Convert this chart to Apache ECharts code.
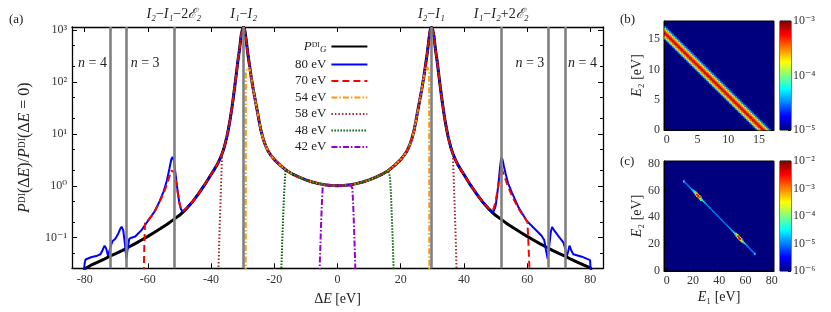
<!DOCTYPE html>
<html><head><meta charset="utf-8">
<script src="https://cdn.jsdelivr.net/npm/echarts@6/dist/echarts.min.js"></script>
<style>html,body{margin:0;padding:0;background:#fff}#c{width:831px;height:312px}</style>
</head><body><div id="c"></div>
<script>
// ---------- data ----------
const deltaETicks = [-80,-60,-40,-20,0,20,40,60,80];
const ratioTicks = [0.1,1,10,100,1000];
const ratioMinorTicks = [0.05,0.2,0.5,2,5,20,50,200,500];
const refLines = [-72,-66.7,-51.8,-29.7,29.7,51.8,66.7,72];

const pdiG = [
[-80.5,0.024],[-80,0.0262],[-78,0.0295],[-76,0.0335],[-74,0.038],[-72,0.044],[-70,0.050],[-68,0.057],[-66,0.066],[-64,0.077],[-62,0.090],[-60,0.106],[-58,0.126],[-56,0.150],[-54,0.180],[-52,0.220],[-50,0.27],[-48,0.35],[-46,0.48],[-44,0.70],[-42,1.05],[-40,1.65],[-39,2.05],[-38,2.6],[-37,3.5],[-36.5,4.2],[-36,5.1],[-35.5,6.6],[-35,8.8],[-34.5,12.5],[-34,18.5],[-33.5,29],[-33,48],[-32.5,82],[-32,145],[-31.5,260],[-31,420],[-30.5,780],[-30.1,1020],[-29.7,1150],[-29.3,980],[-28.9,650],[-28.4,360],[-27.8,200],[-27.3,125],[-26.7,75],[-26,44],[-25.3,26],[-24.8,17.5],[-24.2,11.5],[-23.5,8.0],[-23,6.5],[-22.5,5.5],[-22,4.7],[-21,3.8],[-20,3.2],[-19,2.8],[-18,2.45],[-16,1.95],[-14,1.65],[-12,1.45],[-10,1.3],[-8,1.18],[-6,1.1],[-4,1.05],[-2,1.01],[0,1.0],
[2,1.01],[4,1.05],[6,1.1],[8,1.18],[10,1.3],[12,1.45],[14,1.65],[16,1.95],[18,2.45],[19,2.8],[20,3.2],[21,3.8],[22,4.7],[22.5,5.5],[23,6.5],[23.5,8.0],[24.2,11.5],[24.8,17.5],[25.3,26],[26,44],[26.7,75],[27.3,125],[27.8,200],[28.4,360],[28.9,650],[29.3,980],[29.7,1150],[30.1,1020],[30.5,780],[31,420],[31.5,260],[32,145],[32.5,82],[33,48],[33.5,29],[34,18.5],[34.5,12.5],[35,8.8],[35.5,6.6],[36,5.1],[36.5,4.2],[37,3.5],[38,2.6],[39,2.05],[40,1.65],[42,1.05],[44,0.70],[46,0.48],[48,0.35],[50,0.27],[52,0.220],[54,0.180],[56,0.150],[58,0.126],[60,0.106],[62,0.090],[64,0.077],[66,0.066],[68,0.057],[70,0.050],[72,0.044],[74,0.038],[76,0.0335],[78,0.0295],[80,0.0262],[80.5,0.024]
];
const blue80Left = [[-80.3,0.02],[-80.0,0.032],[-79.7,0.038],[-78,0.042],[-76,0.045],[-75,0.048],[-74.3,0.058],[-73.7,0.07],[-73.2,0.062],[-72.6,0.045],[-72.2,0.043],[-71.7,0.07],[-71.2,0.085],[-70.3,0.095],[-69.5,0.115],[-68.8,0.145],[-68.3,0.163],[-67.8,0.14],[-67.3,0.08],[-66.8,0.04],[-66.4,0.06],[-65.9,0.095],[-65.2,0.1],[-64,0.105],[-62,0.14],[-60,0.21],[-58,0.31],[-56.5,0.47],[-55,0.78],[-54,1.25],[-53.2,2.1],[-52.6,3.2],[-52.2,3.6],[-51.8,3.1],[-51.3,1.8],[-50.7,0.9],[-50.1,0.5],[-49.5,0.35],[-49.0,0.32],[-48.3,0.34],[-47.5,0.39]];
const blue80Right = [[47.5,0.39],[48.3,0.33],[48.9,0.30],[49.5,0.33],[50.0,0.4],[50.5,0.65],[51.0,1.2],[51.4,2.2],[51.8,3.5],[52.2,3.2],[52.7,2.3],[53.2,1.7],[54.0,1.1],[55.2,0.74],[57.3,0.38],[59.9,0.21],[62.6,0.144],[64.5,0.11],[65.4,0.09],[65.9,0.06],[66.5,0.039],[67.0,0.07],[67.5,0.13],[67.9,0.16],[68.5,0.14],[69.9,0.107],[71.5,0.08],[72.1,0.06],[72.6,0.045],[73.0,0.055],[73.4,0.07],[73.9,0.058],[74.6,0.048],[77.3,0.043],[79.9,0.037],[80.2,0.02]];
const red70Left = [[-61.3,0.02],[-61.1,0.08],[-60.9,0.19],[-60,0.21],[-58,0.3],[-56.5,0.46],[-55,0.72],[-54,1.05],[-53.2,1.5],[-52.6,1.95],[-52.2,2.05],[-51.7,1.85],[-51.1,1.2],[-50.5,0.7],[-50.0,0.45],[-49.4,0.34],[-48.7,0.33],[-47.8,0.37]];
const red70Right = [[47.8,0.37],[48.7,0.33],[49.4,0.36],[50.0,0.5],[50.7,0.86],[51.3,1.6],[51.8,2.25],[52.3,2.1],[53.1,1.35],[54.0,0.95],[55.2,0.64],[57.3,0.36],[59.0,0.25],[60.1,0.2],[60.4,0.08],[60.8,0.02]];
const orange54Left = [[-29.05,0.02],[-29.0,150],[-28.5,190],[-27.8,185]];
const orange54Right = [[27.8,185],[28.5,190],[29.0,150],[29.05,0.02]];
const brown58Left = [[-37.7,0.02],[-37.4,0.1],[-37.1,0.35],[-36.8,1.2],[-36.5,4.2]];
const brown58Right = [[36.5,4.2],[36.8,1.2],[37.1,0.35],[37.4,0.1],[37.7,0.02]];
const green48Left = [[-17.8,0.02],[-17.5,0.08],[-17.2,0.25],[-16.9,0.7],[-16.6,1.5],[-16.4,2.0]];
const green48Right = [[16.4,2.0],[16.6,1.5],[16.9,0.7],[17.2,0.25],[17.5,0.08],[17.8,0.02]];
const purple42Left = [[-5.7,0.02],[-5.45,0.06],[-5.2,0.18],[-4.95,0.45],[-4.7,0.9],[-4.5,1.03]];
const purple42Right = [[4.5,1.03],[4.7,0.9],[4.95,0.45],[5.2,0.18],[5.45,0.06],[5.7,0.02]];

// panel (b): band across E1+E2 = const (log10 values at offsets -1.0..1.0, step 0.25)
const bTicks = [0,5,10,15];
const bBandCenter = 15.75;
const bBandProfile = [-4.5,-3.85,-3.55,-3.35,-3.15,-3.35,-3.55,-3.85,-4.5];
const bColorTicks = [-5,-4,-3];
// panel (c): line E1+E2 = 80, E1 = 13..67 (log10)
const cTicks = [0,20,40,60,80];
const cLineSum = 80;
const cE1Start = 13;
const cDiag = [-4.4,-5.0,-5.0,-5.0,-4.95,-4.9,-4.7,-4.3,-3.9,-3.3,-2.6,-2.3,-2.6,-3.4,-4.0,-4.4,-4.7,-4.85,-4.9,-4.95,-4.95,-5.0,-5.0,-5.0,-5.0,-5.0,-5.0,-5.0,-5.0,-5.0,-5.0,-5.0,-5.0,-4.95,-4.95,-4.9,-4.85,-4.7,-4.4,-4.0,-3.4,-2.7,-2.35,-2.5,-3.3,-3.9,-4.3,-4.7,-4.9,-4.95,-5.0,-5.0,-5.0,-5.0,-4.4];
const cSide = [-5.4,null,null,null,null,null,null,-5.6,-5.0,-4.4,-3.6,-3.1,-3.5,-4.4,-5.4,null,null,null,null,null,null,null,null,null,null,null,null,null,null,null,null,null,null,null,null,null,null,null,null,-5.4,-4.4,-3.6,-3.1,-3.4,-4.3,-5.2,null,null,null,null,null,null,null,null,-5.4];
const cColorTicks = [-6,-5,-4,-3,-2];

// ---------- build ----------
const between = (a, lo, hi) => a.filter(p => p[0] >= lo && p[0] <= hi);
const blue80 = [...blue80Left, ...between(pdiG,-46,46), ...blue80Right];
const red70 = [...red70Left, ...between(pdiG,-46,46), ...red70Right];
const orange54 = [...orange54Left, ...between(pdiG,-27.3,27.3), ...orange54Right];
const brown58 = [...brown58Left, ...between(pdiG,-36,36), ...brown58Right];
const green48 = [...green48Left, ...between(pdiG,-16,16), ...green48Right];
const purple42 = [...purple42Left, ...between(pdiG,-4,4), ...purple42Right];

const bMid = (bBandProfile.length - 1) / 2;
const bCells = [];
for (let i = -1; i <= 70; i++) {
  const e1 = i * 0.25;
  bBandProfile.forEach((v, k) => {
    const e2 = bBandCenter + (k - bMid) * 0.25 - e1;
    if (e2 >= -0.25 && e2 <= 18.25) bCells.push([e1, e2, v]);
  });
}
const cCells = [];
cDiag.forEach((v, k) => {
  const e1 = cE1Start + k;
  if (cSide[k] !== null) {
    cCells.push([e1, cLineSum - 1 - e1, cSide[k]]);
    cCells.push([e1, cLineSum + 1 - e1, cSide[k]]);
  }
});
cDiag.forEach((v, k) => { const e1 = cE1Start + k; cCells.push([e1, cLineSum - e1, v]); });

// ---------- style ----------
const SERIF = "'Liberation Serif','DejaVu Serif',serif";
const TXT = '#222';
const JET = ['#00007f','#0000ff','#007fff','#00ffff','#7fff7f','#ffff00','#ff7f00','#ff0000','#7f0000'];
const SUP = {'-':'\u207b','0':'\u2070','1':'\u00b9','2':'\u00b2','3':'\u00b3','4':'\u2074','5':'\u2075','6':'\u2076','7':'\u2077','8':'\u2078','9':'\u2079'};
const sup = n => String(n).split('').map(c => SUP[c]).join('');
function mkRich(fs) {
  return {
    i: {fontStyle:'italic', fontFamily:SERIF, fontSize:fs, color:TXT},
    r: {fontFamily:SERIF, fontSize:fs, color:TXT},
    gs: {fontStyle:'italic', fontFamily:SERIF, fontSize:9, color:TXT, padding:[7,0,0,0]}
  };
}
const rich = mkRich(13), rich14 = mkRich(14), rich16 = mkRich(16);
const lab = {fontFamily:SERIF, fontSize:12, color:'#333'};

function cellRenderer(half) {
  return function (params, api) {
    const x = api.value(0), y = api.value(1);
    const p0 = api.coord([x - half, y + half]);
    const p1 = api.coord([x + half, y - half]);
    const cs = params.coordSys;
    const x0 = Math.max(p0[0], cs.x), y0 = Math.max(p0[1], cs.y);
    const x1 = Math.min(p1[0], cs.x + cs.width), y1 = Math.min(p1[1], cs.y + cs.height);
    if (x1 <= x0 || y1 <= y0) return null;
    return {type:'rect', shape:{x:x0, y:y0, width:x1-x0+0.35, height:y1-y0+0.35}, style:{fill: api.visual('color')}};
  };
}
function colorbarRenderer(params) {
  const cs = params.coordSys;
  return {type:'rect', shape:{x:cs.x, y:cs.y, width:cs.width, height:cs.height},
    style:{fill:{type:'linear', x:0, y:1, x2:0, y2:0, colorStops: JET.map((c,i)=>({offset:i/(JET.length-1), color:c}))}}};
}

const frame = {show:true, onZero:false, lineStyle:{color:'#000', width:1.3}};
function mainX(pos, labels) {
  return {type:'value', gridIndex:0, min:-84, max:84, position:pos,
    axisLine:frame, splitLine:{show:false},
    axisTick:{show:true, inside:true, length:5, customValues:deltaETicks, lineStyle:{color:'#000'}},
    axisLabel: labels ? Object.assign({show:true, customValues:deltaETicks, margin:6}, lab) : {show:false}};
}
function mainY(pos, labels) {
  return {type:'log', logBase:10, gridIndex:0, min:0.0257, max:1145, position:pos,
    axisLine:frame, splitLine:{show:false}, minorTick:{show:false},
    axisTick:{show:true, inside:true, length:5, customValues:ratioTicks, lineStyle:{color:'#000'}},
    axisLabel: labels ? Object.assign({show:true, customValues:ratioTicks, margin:5,
      formatter: v => '10' + sup(Math.round(Math.log10(v)))}, lab) : {show:false}};
}
function minorY(pos) {
  return {type:'log', logBase:10, gridIndex:0, min:0.0257, max:1145, position:pos,
    axisLine:{show:false, onZero:false}, splitLine:{show:false},
    axisTick:{show:true, inside:true, length:3, customValues:ratioMinorTicks, lineStyle:{color:'#000'}},
    axisLabel:{show:false}};
}
function panelAxis(grid, min, max, ticks, pos, name, gap) {
  return {type:'value', gridIndex:grid, min, max, position:pos,
    axisLine:{show:true, onZero:false, lineStyle:{color:'#000', width:1}}, splitLine:{show:false},
    axisTick:{show:true, inside:true, length:3, customValues:ticks, lineStyle:{color:'#000'}},
    axisLabel:Object.assign({show:true, customValues:ticks, margin:4}, lab),
    name: name || '', nameLocation:'middle', nameGap: gap || 0,
    nameTextStyle:{rich:rich14, fontFamily:SERIF, fontSize:14, color:TXT}};
}
function cbarY(grid, min, max, ticks) {
  return {type:'value', gridIndex:grid, min, max, position:'right',
    axisLine:{show:false, onZero:false}, splitLine:{show:false},
    axisTick:{show:true, inside:true, length:3, customValues:ticks, lineStyle:{color:'#000'}},
    axisLabel:Object.assign({show:true, customValues:ticks, margin:2, formatter: v => '10' + sup(v)}, lab)};
}
const hiddenX = grid => ({type:'value', gridIndex:grid, min:0, max:1, show:false});

function lineSeries(name, data, color, width, type) {
  return {name, type:'line', xAxisIndex:0, yAxisIndex:0, data, showSymbol:false, symbol:'none',
    clip:true, z:3, lineStyle:{color, width, type}, itemStyle:{color}, emphasis:{disabled:true}};
}

const option = {
  animation:false,
  backgroundColor:'#fff',
  grid:[
    {left:72, top:27, width:531, height:241.3},
    {left:664, top:21, width:110, height:109, show:true, backgroundColor:'#00007f', borderColor:'#000', borderWidth:1},
    {left:780, top:21, width:11, height:109, show:true, borderColor:'#000', borderWidth:1},
    {left:664, top:161, width:110, height:110, show:true, backgroundColor:'#00007f', borderColor:'#000', borderWidth:1},
    {left:780, top:161, width:11, height:110, show:true, borderColor:'#000', borderWidth:1}
  ],
  xAxis:[
    Object.assign(mainX('bottom', true), {name:'{r|\u0394}{i|E}{r| [eV]}', nameLocation:'middle', nameGap:24, nameTextStyle:{rich:rich14}}),
    mainX('top', false),
    panelAxis(1, -0.44, 17.44, bTicks, 'bottom'),
    hiddenX(2),
    panelAxis(3, -2, 81.8, cTicks, 'bottom', '{i|E}{r|\u2081 [eV]}', 19),
    hiddenX(4)
  ],
  yAxis:[
    Object.assign(mainY('left', true), {name:'{i|P}{r|\u1d30\u1d35(\u0394}{i|E}{r|)/}{i|P}{r|\u1d30\u1d35(\u0394}{i|E}{r| = 0)}', nameLocation:'middle', nameGap:39, nameTextStyle:{rich:rich16}}),
    mainY('right', false),
    minorY('left'),
    minorY('right'),
    panelAxis(1, 0, 18, bTicks, 'left', '{i|E}{r|\u2082 [eV]}', 20),
    cbarY(2, -5, -3, bColorTicks),
    panelAxis(3, 0, 82, cTicks, 'left', '{i|E}{r|\u2082 [eV]}', 20),
    cbarY(4, -6, -2, cColorTicks)
  ],
  visualMap:[
    {type:'continuous', show:false, seriesIndex:8, dimension:2, min:-5, max:-3, inRange:{color:JET}},
    {type:'continuous', show:false, seriesIndex:10, dimension:2, min:-6, max:-2, inRange:{color:JET}}
  ],
  legend:{
    orient:'vertical', left:295, top:40, padding:0, align:'right', itemWidth:36, itemHeight:14, itemGap:3.5,
    data:['PDI','80 eV','70 eV','54 eV','58 eV','48 eV','42 eV'],
    formatter: n => n === 'PDI' ? '{i|P}{r|\u1d30\u1d35}{gs|G}' : n,
    textStyle:{fontFamily:SERIF, fontSize:13, color:TXT, width:34, rich},
    itemStyle:{opacity:0},
    selectedMode:false
  },
  series:[
    {type:'line', name:'refs', xAxisIndex:0, yAxisIndex:0, data:[], z:1, silent:true,
      markLine:{silent:true, symbol:['none','none'], label:{show:false}, animation:false,
        lineStyle:{color:'#808080', width:2.6, type:'solid'}, emphasis:{disabled:true},
        data: refLines.map(v => ({xAxis:v}))},
      markPoint:{silent:true, symbol:'circle', symbolSize:0, animation:false,
        label:{show:true, rich:rich14, fontFamily:SERIF, fontSize:14, color:TXT},
        data:[
          {coord:[-72,230], label:{position:'left', distance:3, formatter:'{i|n}{r| = 4}'}},
          {coord:[-66.7,230], label:{position:'right', distance:4, formatter:'{i|n}{r| = 3}'}},
          {coord:[66.7,230], label:{position:'left', distance:4, formatter:'{i|n}{r| = 3}'}},
          {coord:[72,230], label:{position:'right', distance:3, formatter:'{i|n}{r| = 4}'}},
          {coord:[-51.8,1145], label:{position:'top', distance:6, formatter:'{i|I\u2082}{r|\u2212}{i|I\u2081}{r|\u22122}{i|\u2130\u2082}'}},
          {coord:[-29.7,1145], label:{position:'top', distance:6, formatter:'{i|I\u2081}{r|\u2212}{i|I\u2082}'}},
          {coord:[29.7,1145], label:{position:'top', distance:6, formatter:'{i|I\u2082}{r|\u2212}{i|I\u2081}'}},
          {coord:[51.8,1145], label:{position:'top', distance:6, formatter:'{i|I\u2081}{r|\u2212}{i|I\u2082}{r|+2}{i|\u2130\u2082}'}}
        ]}},
    lineSeries('PDI', pdiG, '#000000', 3, 'solid'),
    lineSeries('80 eV', blue80, '#0000ff', 2, 'solid'),
    lineSeries('70 eV', red70, '#ff0000', 2, [7,4]),
    lineSeries('54 eV', orange54, '#ff9900', 2, [6,2,1.5,2]),
    lineSeries('58 eV', brown58, '#a52a2a', 2, [1.5,2]),
    lineSeries('48 eV', green48, '#006400', 2, [1.5,1.5]),
    lineSeries('42 eV', purple42, '#9400d3', 2, [6,2,1.5,2]),
    {type:'custom', name:'b', xAxisIndex:2, yAxisIndex:4, data:bCells, encode:{x:0, y:1}, renderItem:cellRenderer(0.125), silent:true},
    {type:'custom', name:'bbar', xAxisIndex:3, yAxisIndex:5, data:[[0.5,-4]], encode:{x:0,y:1}, renderItem:colorbarRenderer, silent:true},
    {type:'custom', name:'c', xAxisIndex:4, yAxisIndex:6, data:cCells, encode:{x:0, y:1}, renderItem:cellRenderer(0.5), silent:true},
    {type:'custom', name:'cbar', xAxisIndex:5, yAxisIndex:7, data:[[0.5,-4]], encode:{x:0,y:1}, renderItem:colorbarRenderer, silent:true}
  ],
  graphic:[
    {type:'text', left:9, top:13, style:{text:'(a)', font:'13px ' + SERIF, fill:TXT}},
    {type:'text', left:620, top:13, style:{text:'(b)', font:'13px ' + SERIF, fill:TXT}},
    {type:'text', left:620, top:155, style:{text:'(c)', font:'13px ' + SERIF, fill:TXT}}
  ]
};
const chart = echarts.init(document.getElementById('c'), null, {renderer:'canvas'});
chart.setOption(option);
</script></body></html>
